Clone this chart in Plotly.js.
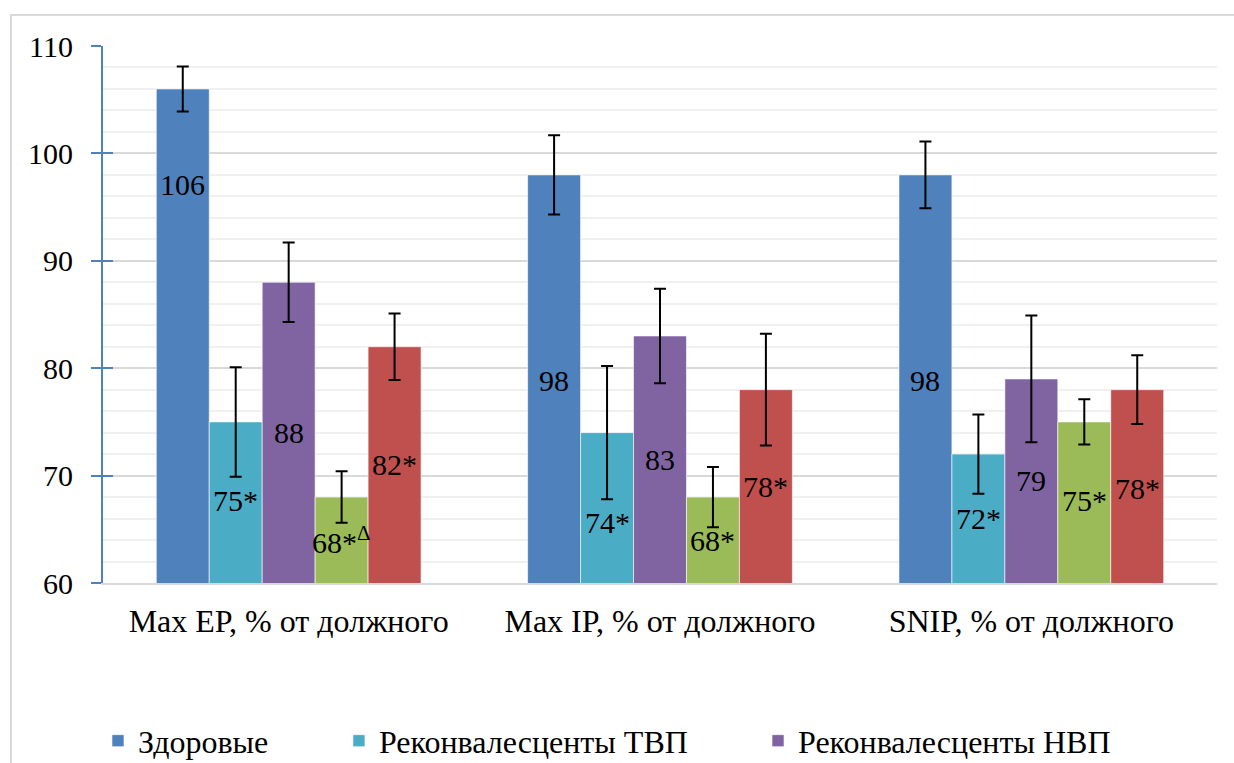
<!DOCTYPE html>
<html>
<head>
<meta charset="utf-8">
<script src="https://cdn.plot.ly/plotly-3.0.1.min.js"></script>
<style>
  html, body { margin: 0; padding: 0; background: #fff; }
  #frame { position: absolute; left: 10px; top: 14px; width: 1240px; height: 800px; border: 2px solid #D9D9D9; box-sizing: border-box; }
  #chart { position: absolute; left: 0; top: 0; width: 1234px; height: 763px; }
</style>
</head>
<body>
<div id="frame"></div>
<div id="chart"></div>
<script>
// ---- data ----
const categories = ["Max EP, % от должного", "Max IP, % от должного", "SNIP, % от должного"];
const seriesNames = ["Здоровые", "Реконвалесценты ТВП", "Реконвалесценты НВП", "Реконвалесценты (группа 4)", "Реконвалесценты (группа 5)"];
const healthy = [106, 98, 98];
const tvp = [75, 74, 72];
const nvp = [88, 83, 79];
const group4 = [68, 68, 75];
const group5 = [82, 78, 78];
const healthyErr = [2.1, 3.7, 3.1];
const tvpErr = [5.1, 6.2, 3.7];
const nvpErr = [3.7, 4.4, 5.9];
const group4Err = [2.4, 2.8, 2.1];
const group5Err = [3.1, 5.2, 3.2];
const healthyLabels = ["106", "98", "98"];
const tvpLabels = ["75*", "74*", "72*"];
const nvpLabels = ["88", "83", "79"];
const group4Labels = ["68*<sup>Δ</sup>", "68*", "75*"];
const group5Labels = ["82*", "78*", "78*"];
// where each value label sits (in axis units)
const healthyLabelAt = [97.1, 78.9, 78.9];
const tvpLabelAt = [67.7, 65.6, 66.0];
const nvpLabelAt = [74.0, 71.5, 69.5];
const group4LabelAt = [64.0, 64.0, 67.7];
const group5LabelAt = [71.0, 69.0, 68.8];
const yTicks = [60, 70, 80, 90, 100, 110];

const colors = ["#4F81BD", "#4BACC6", "#8064A2", "#9BBB59", "#C0504D"];
const values = [healthy, tvp, nvp, group4, group5];
const errs = [healthyErr, tvpErr, nvpErr, group4Err, group5Err];
const labels = [healthyLabels, tvpLabels, nvpLabels, group4Labels, group5Labels];
const labelAt = [healthyLabelAt, tvpLabelAt, nvpLabelAt, group4LabelAt, group5LabelAt];

const FONT = "Liberation Serif";
const FS = 30;
const bargap = 0.287;
const nS = values.length;
const barW = (1 - bargap) / nS;

const traces = values.map((v, i) => ({
  type: "bar", name: seriesNames[i], x: categories, y: v,
  marker: { color: colors[i], line: { color: "rgba(255,255,255,0.6)", width: 1 } },
  error_y: { type: "data", array: errs[i], visible: true, color: "#000", thickness: 2, width: 6 },
  showlegend: i < 3,
  legend: i === 0 ? "legend" : (i === 1 ? "legend2" : "legend3"),
  hoverinfo: "skip"
}));

const annotations = [];
values.forEach((v, i) => {
  v.forEach((val, j) => {
    annotations.push({
      xref: "x", yref: "y", x: j + (i - (nS - 1) / 2) * barW, y: labelAt[i][j],
      text: labels[i][j], showarrow: false,
      font: { family: FONT, size: FS, color: "#000" }, xanchor: "center", yanchor: "middle"
    });
  });
});

const legendBase = {
  orientation: "h", yref: "paper", y: -0.294, yanchor: "middle", xanchor: "left",
  font: { family: FONT, size: 32, color: "#000" }, bgcolor: "rgba(0,0,0,0)", itemwidth: 30
};

const layout = {
  width: 1234, height: 763,
  margin: { l: 103, r: 17, t: 46, b: 180, autoexpand: false },
  paper_bgcolor: "rgba(0,0,0,0)", plot_bgcolor: "rgba(0,0,0,0)",
  barmode: "group", bargap: bargap, bargroupgap: 0,
  font: { family: FONT, size: FS, color: "#000" },
  xaxis: {
    type: "category", showline: true, linecolor: "#D9D9D9", linewidth: 2,
    ticks: "", showgrid: false, tickfont: { family: FONT, size: 32, color: "#000" }, ticklabelstandoff: 9
  },
  yaxis: {
    range: [60, 110], tickvals: yTicks,
    showline: true, linecolor: "#4F81BD", linewidth: 2,
    ticks: "outside", ticklen: 10, tickwidth: 2, tickcolor: "#4F81BD",
    showgrid: true, gridcolor: "#D9D9D9", gridwidth: 2,
    minor: { dtick: 2, showgrid: true, gridcolor: "#F0F0F0", gridwidth: 2, ticks: "" },
    zeroline: false, tickfont: { family: FONT, size: FS, color: "#000" }, ticklabelstandoff: 12
  },
  yaxis2: {
    overlaying: "y", side: "left", range: [60, 110], tickvals: yTicks.slice(1),
    ticks: "inside", ticklen: 10, tickwidth: 2, tickcolor: "#4F81BD",
    showticklabels: false, showgrid: false, showline: false, zeroline: false
  },
  legend: Object.assign({}, legendBase, { x: -0.0045 }),
  legend2: Object.assign({}, legendBase, { x: 0.2118 }),
  legend3: Object.assign({}, legendBase, { x: 0.588 }),
  annotations: annotations
};
// invisible trace so the overlay axis (crossing tick marks) is drawn
traces.push({ type: "scatter", x: [categories[0]], y: [60], yaxis: "y2", mode: "markers", marker: { opacity: 0 }, showlegend: false, hoverinfo: "skip" });

Plotly.newPlot("chart", traces, layout, { staticPlot: true });
</script>
</body>
</html>
